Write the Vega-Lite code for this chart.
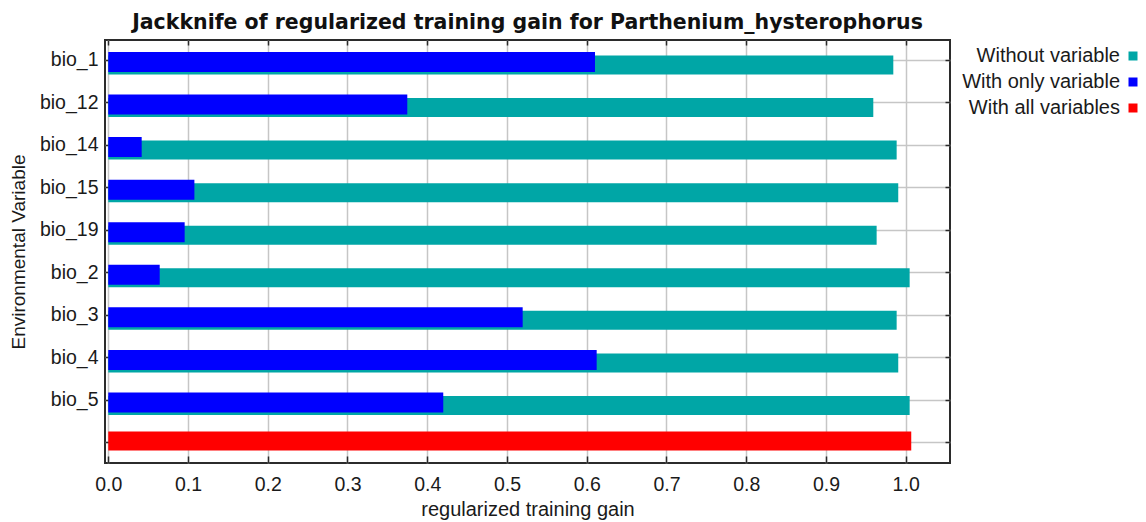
{
  "$schema": "https://vega.github.io/schema/vega-lite/v6.json",
  "width": 845,
  "height": 423,
  "autosize": {"type": "none"},
  "padding": {"left": 105, "top": 40, "right": 196, "bottom": 59},
  "background": "white",
  "title": {
    "text": "Jackknife of regularized training gain for Parthenium_hysterophorus",
    "font": "DejaVu Sans",
    "fontSize": 20.5,
    "fontWeight": "bold",
    "color": "#111111",
    "anchor": "middle",
    "offset": 6
  },
  "config": {
    "view": {"stroke": "#2b2b2b", "strokeWidth": 2},
    "axis": {
      "labelFont": "Liberation Sans",
      "titleFont": "Liberation Sans",
      "labelColor": "#1a1a1a",
      "titleColor": "#1a1a1a",
      "titleFontWeight": "normal",
      "tickColor": "#2b2b2b",
      "tickWidth": 1.5,
      "gridColor": "#c6c6c6",
      "gridWidth": 1.5,
      "gridOpacity": 1,
      "domain": false
    },
    "legend": {
      "labelFont": "Liberation Sans",
      "labelColor": "#1a1a1a"
    }
  },
  "data": {
    "values": [
      {"variable": "bio_1", "series": "Without variable", "gain": 0.9845},
      {"variable": "bio_12", "series": "Without variable", "gain": 0.9594},
      {"variable": "bio_14", "series": "Without variable", "gain": 0.9887},
      {"variable": "bio_15", "series": "Without variable", "gain": 0.9907},
      {"variable": "bio_19", "series": "Without variable", "gain": 0.9636},
      {"variable": "bio_2", "series": "Without variable", "gain": 1.005},
      {"variable": "bio_3", "series": "Without variable", "gain": 0.9887},
      {"variable": "bio_4", "series": "Without variable", "gain": 0.9907},
      {"variable": "bio_5", "series": "Without variable", "gain": 1.005},
      {"variable": "bio_1", "series": "With only variable", "gain": 0.6104},
      {"variable": "bio_12", "series": "With only variable", "gain": 0.375},
      {"variable": "bio_14", "series": "With only variable", "gain": 0.0419},
      {"variable": "bio_15", "series": "With only variable", "gain": 0.108},
      {"variable": "bio_19", "series": "With only variable", "gain": 0.0958},
      {"variable": "bio_2", "series": "With only variable", "gain": 0.0645},
      {"variable": "bio_3", "series": "With only variable", "gain": 0.5197},
      {"variable": "bio_4", "series": "With only variable", "gain": 0.6125},
      {"variable": "bio_5", "series": "With only variable", "gain": 0.4201},
      {"variable": "", "series": "With all variables", "gain": 1.007}
    ]
  },
  "layer": [
    {
      "transform": [{"filter": "datum.series === 'Without variable'"}],
      "mark": {"type": "bar", "height": 19, "yOffset": 5},
      "encoding": {
        "y": {
          "field": "variable",
          "type": "nominal",
          "sort": null,
          "scale": {
            "type": "band",
            "domain": ["bio_1", "bio_12", "bio_14", "bio_15", "bio_19", "bio_2", "bio_3", "bio_4", "bio_5", ""],
            "paddingInner": 0.5,
            "paddingOuter": 0.22
          },
          "axis": {
            "orient": "left",
            "title": "Environmental Variable",
            "titleFontSize": 19,
            "titlePadding": 11,
            "labelFontSize": 19.5,
            "labelPadding": 11,
            "tickSize": -4,
            "bandPosition": 0.5,
            "grid": true
          }
        },
        "x": {
          "field": "gain",
          "type": "quantitative",
          "scale": {"domain": [-0.0041, 1.0556], "nice": false, "zero": true},
          "axis": {
            "orient": "bottom",
            "title": "regularized training gain",
            "titleFontSize": 20,
            "titlePadding": 6,
            "labelFontSize": 19.5,
            "labelPadding": 19,
            "tickSize": -7,
            "values": [0, 0.1, 0.2, 0.3, 0.4, 0.5, 0.6, 0.7, 0.8, 0.9, 1.0],
            "format": ".1f",
            "grid": true
          }
        },
        "color": {
          "field": "series",
          "type": "nominal",
          "scale": {
            "domain": ["Without variable", "With only variable", "With all variables"],
            "range": ["#00a6a6", "#0000ff", "#ff0000"]
          },
          "legend": {
            "title": null,
            "orient": "right",
            "offset": 166,
            "padding": 6,
            "labelFontSize": 20,
            "labelAlign": "right",
            "labelOffset": -23,
            "symbolType": "square",
            "symbolSize": 81,
            "symbolStrokeWidth": 0,
            "rowPadding": 6
          }
        }
      }
    },
    {
      "transform": [{"filter": "datum.series === 'With only variable'"}],
      "mark": {"type": "bar", "height": 20, "yOffset": 2},
      "encoding": {
        "y": {
          "field": "variable",
          "type": "nominal",
          "sort": null,
          "axis": {
            "orient": "right",
            "title": null,
            "labels": false,
            "tickSize": -5,
            "bandPosition": 0.5,
            "grid": false
          }
        },
        "x": {
          "field": "gain",
          "type": "quantitative",
          "axis": {
            "orient": "top",
            "title": null,
            "labels": false,
            "tickSize": -5,
            "values": [0, 0.1, 0.2, 0.3, 0.4, 0.5, 0.6, 0.7, 0.8, 0.9, 1.0],
            "grid": false
          }
        },
        "color": {"field": "series", "type": "nominal"}
      }
    },
    {
      "transform": [{"filter": "datum.series === 'With all variables'"}],
      "mark": {"type": "bar", "height": 19, "yOffset": -2},
      "encoding": {
        "y": {"field": "variable", "type": "nominal", "sort": null, "axis": null},
        "x": {"field": "gain", "type": "quantitative", "axis": null},
        "color": {"field": "series", "type": "nominal"}
      }
    }
  ],
  "resolve": {"axis": {"x": "independent", "y": "independent"}}
}
